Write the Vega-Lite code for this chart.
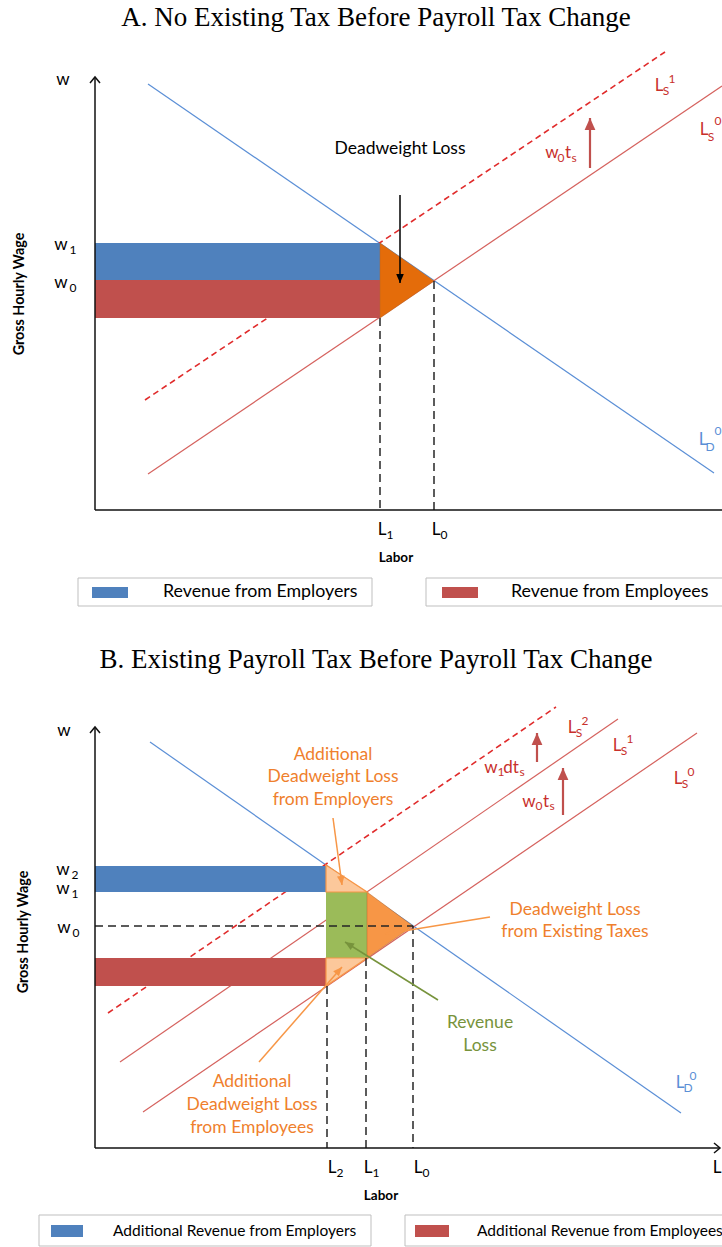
{
  "$schema": "https://vega.github.io/schema/vega-lite/v6.json",
  "width": 722,
  "height": 1247,
  "autosize": {"type": "none"},
  "padding": 0,
  "background": "#ffffff",
  "config": {"view": {"stroke": null}},
  "datasets": {
    "segs": [
      {"kind": "demand", "x": 148, "y": 84, "x2": 714, "y2": 473},
      {"kind": "supply", "x": 148, "y": 474, "x2": 722, "y2": 86},
      {"kind": "supplyNew", "x": 145, "y": 400, "x2": 665, "y2": 52},
      {"kind": "guide", "x": 380, "y": 318, "x2": 380, "y2": 510},
      {"kind": "guide", "x": 434, "y": 281, "x2": 434, "y2": 510},
      {"kind": "axis", "x": 95, "y": 510, "x2": 722, "y2": 510},
      {"kind": "demand", "x": 150, "y": 742, "x2": 681, "y2": 1113},
      {"kind": "supply", "x": 143, "y": 1112, "x2": 697, "y2": 733},
      {"kind": "supply", "x": 120, "y": 1062, "x2": 618, "y2": 719},
      {"kind": "supplyNew", "x": 108, "y": 1013, "x2": 556, "y2": 707},
      {"kind": "guide", "x": 95, "y": 926, "x2": 413, "y2": 926},
      {"kind": "guide", "x": 327, "y": 986, "x2": 327, "y2": 1148},
      {"kind": "guide", "x": 366, "y": 958, "x2": 366, "y2": 1148},
      {"kind": "guide", "x": 413, "y": 926, "x2": 413, "y2": 1148}
    ],
    "arrows": [
      {"kind": "axis", "x": 95, "y": 510, "x2": 95, "y2": 77},
      {"kind": "axis", "x": 95, "y": 1148, "x2": 95, "y2": 727},
      {"kind": "axis", "x": 95, "y": 1148, "x2": 720, "y2": 1148},
      {"kind": "taxShift", "x": 590, "y": 168, "x2": 590, "y2": 118},
      {"kind": "taxShift", "x": 537, "y": 762, "x2": 537, "y2": 733},
      {"kind": "taxShift", "x": 563, "y": 815, "x2": 563, "y2": 768},
      {"kind": "dwlNote", "x": 400, "y": 195, "x2": 400, "y2": 283},
      {"kind": "annot", "x": 333, "y": 818, "x2": 342, "y2": 885},
      {"kind": "annot", "x": 490, "y": 917, "x2": 385, "y2": 934},
      {"kind": "annot", "x": 259, "y": 1062, "x2": 342, "y2": 967},
      {"kind": "revLossNote", "x": 438, "y": 1000, "x2": 345, "y2": 942}
    ],
    "rects": [
      {"kind": "employers", "x": 95, "y": 243, "x2": 380, "y2": 280},
      {"kind": "employees", "x": 95, "y": 280, "x2": 380, "y2": 318},
      {"kind": "employers", "x": 95, "y": 866, "x2": 326, "y2": 892},
      {"kind": "employees", "x": 95, "y": 958, "x2": 326, "y2": 986},
      {"kind": "revLoss", "x": 326, "y": 892, "x2": 367, "y2": 958},
      {"kind": "employers", "x": 92, "y": 587, "x2": 128, "y2": 598},
      {"kind": "employees", "x": 442, "y": 587, "x2": 478, "y2": 598},
      {"kind": "employers", "x": 51, "y": 1225, "x2": 83, "y2": 1237},
      {"kind": "employees", "x": 415, "y": 1225, "x2": 449, "y2": 1237}
    ],
    "boxes": [
      {"kind": "legendBox", "x": 78, "y": 578, "x2": 372, "y2": 606},
      {"kind": "legendBox", "x": 426, "y": 578, "x2": 740, "y2": 606},
      {"kind": "legendBox", "x": 39, "y": 1215, "x2": 371, "y2": 1246},
      {"kind": "legendBox", "x": 405, "y": 1215, "x2": 740, "y2": 1246}
    ],
    "tris": [
      {"tri": "A", "kind": "dwlTri", "x": 380, "y": 243, "y2": 318},
      {"tri": "A", "kind": "dwlTri", "x": 434, "y": 281, "y2": 281},
      {"tri": "Bx", "kind": "dwlExisting", "x": 367, "y": 892, "y2": 958},
      {"tri": "Bx", "kind": "dwlExisting", "x": 413, "y": 926, "y2": 926},
      {"tri": "Bt", "kind": "dwlAdded", "x": 326, "y": 865, "y2": 892},
      {"tri": "Bt", "kind": "dwlAdded", "x": 367, "y": 892, "y2": 892},
      {"tri": "Bb", "kind": "dwlAdded", "x": 326, "y": 958, "y2": 986},
      {"tri": "Bb", "kind": "dwlAdded", "x": 367, "y": 958, "y2": 958}
    ],
    "texts": [
      {"role": "title", "kind": "text", "t": "A. No Existing Tax Before Payroll Tax Change", "x": 376, "y": 18},
      {"role": "title", "kind": "text", "t": "B. Existing Payroll Tax Before Payroll Tax Change", "x": 376, "y": 660},
      {"role": "label", "kind": "text", "t": "w", "x": 63, "y": 80},
      {"role": "label", "kind": "text", "t": "w", "x": 61, "y": 245},
      {"role": "label", "kind": "text", "t": "w", "x": 61, "y": 283},
      {"role": "label", "kind": "text", "t": "L", "x": 382, "y": 530},
      {"role": "label", "kind": "text", "t": "L", "x": 436, "y": 530},
      {"role": "label", "kind": "text", "t": "w", "x": 64, "y": 731},
      {"role": "label", "kind": "text", "t": "w", "x": 63, "y": 870},
      {"role": "label", "kind": "text", "t": "w", "x": 63, "y": 889},
      {"role": "label", "kind": "text", "t": "w", "x": 64, "y": 928},
      {"role": "label", "kind": "text", "t": "L", "x": 332, "y": 1168},
      {"role": "label", "kind": "text", "t": "L", "x": 368, "y": 1168},
      {"role": "label", "kind": "text", "t": "L", "x": 418, "y": 1168},
      {"role": "label", "kind": "text", "t": "L", "x": 717, "y": 1168},
      {"role": "sub", "kind": "text", "t": "1", "x": 73, "y": 250},
      {"role": "sub", "kind": "text", "t": "0", "x": 73, "y": 288},
      {"role": "sub", "kind": "text", "t": "1", "x": 390, "y": 535},
      {"role": "sub", "kind": "text", "t": "0", "x": 444, "y": 535},
      {"role": "sub", "kind": "text", "t": "2", "x": 75, "y": 875},
      {"role": "sub", "kind": "text", "t": "1", "x": 75, "y": 894},
      {"role": "sub", "kind": "text", "t": "0", "x": 76, "y": 933},
      {"role": "sub", "kind": "text", "t": "2", "x": 340, "y": 1173},
      {"role": "sub", "kind": "text", "t": "1", "x": 376, "y": 1173},
      {"role": "sub", "kind": "text", "t": "0", "x": 426, "y": 1173},
      {"role": "label", "kind": "supplyLabel", "t": "L", "x": 659, "y": 86},
      {"role": "label", "kind": "supplyLabel", "t": "L", "x": 704, "y": 130},
      {"role": "label", "kind": "supplyLabel", "t": "w", "x": 552, "y": 153},
      {"role": "label", "kind": "supplyLabel", "t": "t", "x": 568, "y": 153},
      {"role": "sub", "kind": "supplyLabel", "t": "S", "x": 666, "y": 91},
      {"role": "sub", "kind": "supplyLabel", "t": "1", "x": 672, "y": 79},
      {"role": "sub", "kind": "supplyLabel", "t": "S", "x": 711, "y": 137},
      {"role": "sub", "kind": "supplyLabel", "t": "0", "x": 718, "y": 121},
      {"role": "sub", "kind": "supplyLabel", "t": "0", "x": 561, "y": 158},
      {"role": "sub", "kind": "supplyLabel", "t": "s", "x": 574, "y": 158},
      {"role": "label", "kind": "supplyLabel", "t": "L", "x": 572, "y": 728},
      {"role": "label", "kind": "supplyLabel", "t": "L", "x": 617, "y": 746},
      {"role": "label", "kind": "supplyLabel", "t": "L", "x": 678, "y": 779},
      {"role": "label", "kind": "supplyLabel", "t": "w", "x": 491, "y": 768},
      {"role": "label", "kind": "supplyLabel", "t": "dt", "x": 511, "y": 768},
      {"role": "label", "kind": "supplyLabel", "t": "w", "x": 529, "y": 802},
      {"role": "label", "kind": "supplyLabel", "t": "t", "x": 546, "y": 802},
      {"role": "sub", "kind": "supplyLabel", "t": "S", "x": 579, "y": 733},
      {"role": "sub", "kind": "supplyLabel", "t": "2", "x": 585, "y": 721},
      {"role": "sub", "kind": "supplyLabel", "t": "S", "x": 624, "y": 751},
      {"role": "sub", "kind": "supplyLabel", "t": "1", "x": 630, "y": 739},
      {"role": "sub", "kind": "supplyLabel", "t": "S", "x": 685, "y": 784},
      {"role": "sub", "kind": "supplyLabel", "t": "0", "x": 691, "y": 772},
      {"role": "sub", "kind": "supplyLabel", "t": "1", "x": 501, "y": 772},
      {"role": "sub", "kind": "supplyLabel", "t": "s", "x": 522, "y": 772},
      {"role": "sub", "kind": "supplyLabel", "t": "0", "x": 539, "y": 806},
      {"role": "sub", "kind": "supplyLabel", "t": "s", "x": 552, "y": 806},
      {"role": "label", "kind": "demand", "t": "L", "x": 703, "y": 440},
      {"role": "sub", "kind": "demand", "t": "D", "x": 710, "y": 447},
      {"role": "sub", "kind": "demand", "t": "0", "x": 718, "y": 431},
      {"role": "label", "kind": "demand", "t": "L", "x": 680, "y": 1083},
      {"role": "sub", "kind": "demand", "t": "D", "x": 688, "y": 1088},
      {"role": "sub", "kind": "demand", "t": "0", "x": 693, "y": 1076},
      {"role": "axisTitle", "kind": "text", "t": "Labor", "x": 396, "y": 558},
      {"role": "axisTitle", "kind": "text", "t": "Labor", "x": 381, "y": 1196},
      {"role": "axisTitleV", "kind": "text", "t": "Gross Hourly Wage", "x": 20, "y": 294},
      {"role": "axisTitleV", "kind": "text", "t": "Gross Hourly Wage", "x": 24, "y": 932},
      {"role": "note", "kind": "dwlNote", "t": "Deadweight Loss", "x": 400, "y": 149},
      {"role": "note", "kind": "annotText", "t": "Additional", "x": 333, "y": 755},
      {"role": "note", "kind": "annotText", "t": "Deadweight Loss", "x": 333, "y": 777},
      {"role": "note", "kind": "annotText", "t": "from Employers", "x": 333, "y": 800},
      {"role": "note", "kind": "annotText", "t": "Deadweight Loss", "x": 575, "y": 910},
      {"role": "note", "kind": "annotText", "t": "from Existing Taxes", "x": 575, "y": 932},
      {"role": "note", "kind": "annotText", "t": "Additional", "x": 252, "y": 1082},
      {"role": "note", "kind": "annotText", "t": "Deadweight Loss", "x": 252, "y": 1105},
      {"role": "note", "kind": "annotText", "t": "from Employees", "x": 252, "y": 1128},
      {"role": "note", "kind": "revLossNote", "t": "Revenue", "x": 480, "y": 1023},
      {"role": "note", "kind": "revLossNote", "t": "Loss", "x": 480, "y": 1046},
      {"role": "legendA", "kind": "text", "t": "Revenue from Employers", "x": 163, "y": 592},
      {"role": "legendA", "kind": "text", "t": "Revenue from Employees", "x": 511, "y": 592},
      {"role": "legendB", "kind": "text", "t": "Additional Revenue from Employers", "x": 113, "y": 1231},
      {"role": "legendB", "kind": "text", "t": "Additional Revenue from Employees", "x": 477, "y": 1231}
    ]
  },
  "encoding": {
    "x": {"field": "x", "type": "quantitative", "axis": null, "scale": {"domain": [0, 722], "nice": false, "zero": false}},
    "y": {"field": "y", "type": "quantitative", "axis": null, "scale": {"domain": [0, 1247], "reverse": true, "nice": false, "zero": false}},
    "color": {
      "field": "kind", "type": "nominal", "legend": null,
      "scale": {
        "domain": ["demand", "supply", "supplyNew", "guide", "axis", "taxShift", "dwlNote", "dwlTri", "dwlExisting", "dwlAdded", "revLoss", "revLossNote", "employers", "employees", "annot", "annotText", "supplyLabel", "text", "legendBox"],
        "range": ["#5b8fd6", "#d5625e", "#e02b2b", "#262626", "#111111", "#c0504d", "#000000", "#e46c0a", "#f79646", "#fcc89b", "#9bbb59", "#77933c", "#4f81bd", "#c0504d", "#f79646", "#ef7f2d", "#c8302c", "#000000", "#ffffff"]
      }
    }
  },
  "layer": [
    {
      "data": {"name": "boxes"},
      "mark": {"type": "rect", "stroke": "#bfbfbf", "strokeWidth": 1},
      "encoding": {"x2": {"field": "x2"}, "y2": {"field": "y2"}}
    },
    {
      "data": {"name": "segs"},
      "transform": [{"filter": "datum.kind === 'demand' || datum.kind === 'supply'"}],
      "mark": {"type": "rule", "strokeWidth": 1.2},
      "encoding": {"x2": {"field": "x2"}, "y2": {"field": "y2"}}
    },
    {
      "data": {"name": "segs"},
      "transform": [{"filter": "datum.kind === 'supplyNew'"}],
      "mark": {"type": "rule", "strokeWidth": 1.6, "strokeDash": [6, 4]},
      "encoding": {"x2": {"field": "x2"}, "y2": {"field": "y2"}}
    },
    {
      "data": {"name": "rects"},
      "mark": {"type": "rect"},
      "encoding": {"x2": {"field": "x2"}, "y2": {"field": "y2"}}
    },
    {
      "data": {"name": "tris"},
      "transform": [{"filter": "datum.kind !== 'dwlAdded'"}],
      "mark": {"type": "area", "orient": "vertical", "stroke": "#b0652a", "strokeWidth": 0.8, "strokeOpacity": 0.6},
      "encoding": {"y": {"field": "y", "type": "quantitative", "stack": null}, "y2": {"field": "y2"}, "detail": {"field": "tri"}}
    },
    {
      "data": {"name": "tris"},
      "transform": [{"filter": "datum.kind === 'dwlAdded'"}],
      "mark": {"type": "area", "orient": "vertical", "stroke": "#f79646", "strokeWidth": 1.2},
      "encoding": {"y": {"field": "y", "type": "quantitative", "stack": null}, "y2": {"field": "y2"}, "detail": {"field": "tri"}}
    },
    {
      "data": {"name": "segs"},
      "transform": [{"filter": "datum.kind === 'guide'"}],
      "mark": {"type": "rule", "strokeWidth": 1.5, "strokeDash": [8, 5]},
      "encoding": {"x2": {"field": "x2"}, "y2": {"field": "y2"}}
    },
    {
      "data": {"name": "segs"},
      "transform": [{"filter": "datum.kind === 'axis'"}],
      "mark": {"type": "rule", "strokeWidth": 1.6},
      "encoding": {"x2": {"field": "x2"}, "y2": {"field": "y2"}}
    },
    {
      "data": {"name": "arrows"},
      "transform": [{"filter": "datum.kind !== 'taxShift'"}],
      "mark": {"type": "rule", "strokeWidth": 1.5},
      "encoding": {"x2": {"field": "x2"}, "y2": {"field": "y2"}}
    },
    {
      "data": {"name": "arrows"},
      "transform": [{"filter": "datum.kind === 'taxShift'"}],
      "mark": {"type": "rule", "strokeWidth": 2.2},
      "encoding": {"x2": {"field": "x2"}, "y2": {"field": "y2"}}
    },
    {
      "data": {"name": "arrows"},
      "transform": [
        {"filter": "datum.kind === 'annot' || datum.kind === 'dwlNote' || datum.kind === 'revLossNote'"},
        {"calculate": "(atan2(datum.x2 - datum.x, datum.y - datum.y2) * 180 / PI + 360) % 360", "as": "ang"}
      ],
      "mark": {"type": "point", "shape": "M0,0L-0.85,2L0.85,2Z", "filled": true, "opacity": 1, "size": 81},
      "encoding": {
        "x": {"field": "x2", "type": "quantitative"},
        "y": {"field": "y2", "type": "quantitative"},
        "angle": {"field": "ang", "type": "quantitative", "scale": null}
      }
    },
    {
      "data": {"name": "arrows"},
      "transform": [
        {"filter": "datum.kind === 'taxShift'"},
        {"calculate": "(atan2(datum.x2 - datum.x, datum.y - datum.y2) * 180 / PI + 360) % 360", "as": "ang"}
      ],
      "mark": {"type": "point", "shape": "M0,0L-0.9,2L0.9,2Z", "filled": true, "opacity": 1, "size": 144},
      "encoding": {
        "x": {"field": "x2", "type": "quantitative"},
        "y": {"field": "y2", "type": "quantitative"},
        "angle": {"field": "ang", "type": "quantitative", "scale": null}
      }
    },
    {
      "data": {"name": "arrows"},
      "transform": [
        {"filter": "datum.kind === 'axis'"},
        {"calculate": "(atan2(datum.x2 - datum.x, datum.y - datum.y2) * 180 / PI + 360) % 360", "as": "ang"}
      ],
      "mark": {"type": "point", "shape": "M-1,1.2L0,0L1,1.2", "filled": false, "opacity": 1, "strokeWidth": 1.5, "size": 100},
      "encoding": {
        "x": {"field": "x2", "type": "quantitative"},
        "y": {"field": "y2", "type": "quantitative"},
        "angle": {"field": "ang", "type": "quantitative", "scale": null}
      }
    },
    {
      "data": {"name": "texts"},
      "transform": [{"filter": "datum.role === 'title'"}],
      "mark": {"type": "text", "font": "Liberation Serif", "fontSize": 27, "align": "center", "baseline": "middle"},
      "encoding": {"text": {"field": "t"}}
    },
    {
      "data": {"name": "texts"},
      "transform": [{"filter": "datum.role === 'label'"}],
      "mark": {"type": "text", "font": "Lato", "fontSize": 17, "align": "center", "baseline": "middle"},
      "encoding": {"text": {"field": "t"}}
    },
    {
      "data": {"name": "texts"},
      "transform": [{"filter": "datum.role === 'sub'"}],
      "mark": {"type": "text", "font": "Lato", "fontSize": 12, "align": "center", "baseline": "middle"},
      "encoding": {"text": {"field": "t"}}
    },
    {
      "data": {"name": "texts"},
      "transform": [{"filter": "datum.role === 'note'"}],
      "mark": {"type": "text", "font": "Lato", "fontSize": 17.5, "align": "center", "baseline": "middle"},
      "encoding": {"text": {"field": "t"}}
    },
    {
      "data": {"name": "texts"},
      "transform": [{"filter": "datum.role === 'axisTitle'"}],
      "mark": {"type": "text", "font": "Lato", "fontSize": 13.5, "fontWeight": "bold", "align": "center", "baseline": "middle"},
      "encoding": {"text": {"field": "t"}}
    },
    {
      "data": {"name": "texts"},
      "transform": [{"filter": "datum.role === 'axisTitleV'"}],
      "mark": {"type": "text", "font": "Lato", "fontSize": 14.3, "fontWeight": "bold", "align": "center", "baseline": "middle", "angle": 270},
      "encoding": {"text": {"field": "t"}}
    },
    {
      "data": {"name": "texts"},
      "transform": [{"filter": "datum.role === 'legendA'"}],
      "mark": {"type": "text", "font": "Lato", "fontSize": 17.8, "align": "left", "baseline": "middle"},
      "encoding": {"text": {"field": "t"}}
    },
    {
      "data": {"name": "texts"},
      "transform": [{"filter": "datum.role === 'legendB'"}],
      "mark": {"type": "text", "font": "Lato", "fontSize": 15.5, "align": "left", "baseline": "middle"},
      "encoding": {"text": {"field": "t"}}
    }
  ]
}
